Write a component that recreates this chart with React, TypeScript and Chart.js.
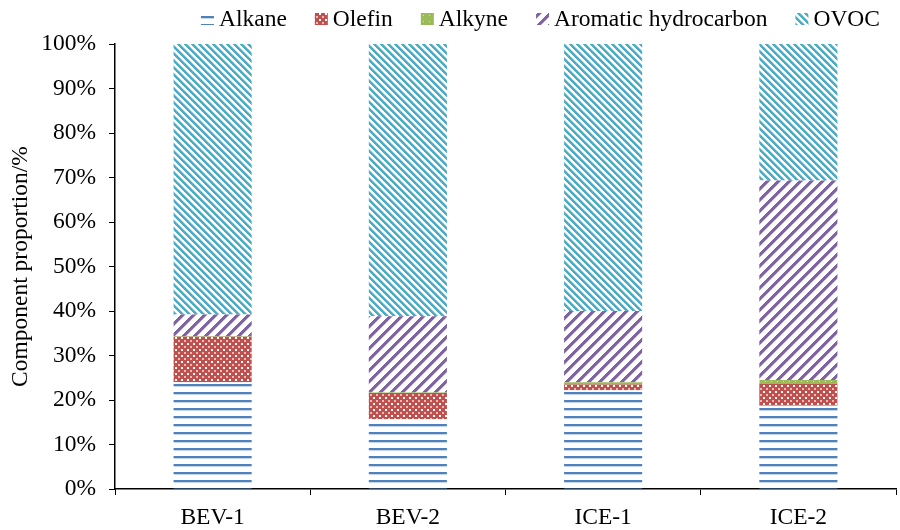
import React, { useEffect, useRef } from "react";
import { Chart, registerables } from "chart.js";

Chart.register(...registerables);

const categories = ["BEV-1", "BEV-2", "ICE-1", "ICE-2"];
const alkane = [24.0, 15.7, 22.2, 18.7];
const olefin = [10.2, 5.9, 1.3, 4.9];
const alkyne = [0.1, 0.1, 0.5, 0.9];
const aromatic = [4.9, 17.1, 16.0, 44.8];
const ovoc = [60.8, 61.2, 60.0, 30.7];
const seriesNames = ["Alkane", "Olefin", "Alkyne", "Aromatic hydrocarbon", "OVOC"];

const FONT = "'Times New Roman', 'Liberation Serif', serif";

function makeTile(size: number, paint: (x: number, y: number) => string | null): CanvasPattern | string {
  const c = document.createElement("canvas");
  c.width = size;
  c.height = size;
  const ctx = c.getContext("2d")!;
  ctx.fillStyle = "#ffffff";
  ctx.fillRect(0, 0, size, size);
  for (let y = 0; y < size; y++) {
    for (let x = 0; x < size; x++) {
      const col = paint(x, y);
      if (col) {
        ctx.fillStyle = col;
        ctx.fillRect(x, y, 1, 1);
      }
    }
  }
  const p = document.createElement("canvas").getContext("2d")!.createPattern(c, "repeat");
  return p || "#888";
}

function buildPatterns() {
  const alkanePat = makeTile(8, (x, y) => (y === 0 || y === 1 ? "#4F81BD" : y === 2 ? "#C6D6EA" : null));
  const olefinPat = makeTile(6, (x, y) => {
    if ((x === 1 || x === 2) && (y === 1 || y === 2)) return "#ffffff";
    if ((x === 4 || x === 5) && (y === 4 || y === 5)) return "#EBB9B8";
    return "#C0504D";
  });
  const alkynePat = makeTile(6, (x, y) => (x === 3 && y === 3 ? "#D7E4BD" : "#9BBB59"));
  const aromaticPat = makeTile(11, (x, y) => {
    const m = (((x + y) % 11) + 11) % 11;
    return m < 4 ? "#8064A2" : m === 4 ? "#C9BCDA" : null;
  });
  const ovocPat = makeTile(7, (x, y) => {
    const m = (((x - y) % 7) + 7) % 7;
    return m < 3 ? "#4BACC6" : m === 3 ? "#A5D5E2" : null;
  });
  return [alkanePat, olefinPat, alkynePat, aromaticPat, ovocPat];
}

const legendPlugin = {
  id: "customLegend",
  afterDraw(chart: any) {
    const ctx = chart.ctx;
    const ds = chart.data.datasets;
    ctx.save();
    ctx.font = `23.5px ${FONT}`;
    const boxW = 13;
    const boxH = 12;
    const gap = 5;
    const itemGap = 28;
    const widths = ds.map((d: any) => boxW + gap + ctx.measureText(d.label).width);
    const total = widths.reduce((a: number, b: number) => a + b, 0) + itemGap * (ds.length - 1);
    let x = chart.chartArea.right - 16 - total;
    const baseY = 26;
    ds.forEach((d: any, i: number) => {
      ctx.fillStyle = d.backgroundColor;
      ctx.fillRect(x, 13, boxW, boxH);
      ctx.fillStyle = "#000";
      ctx.textBaseline = "alphabetic";
      ctx.textAlign = "left";
      ctx.fillText(d.label, x + boxW + gap, baseY);
      x += widths[i] + itemGap;
    });
    ctx.restore();
  },
};

export default function App() {
  const ref = useRef<HTMLCanvasElement | null>(null);
  useEffect(() => {
    if (!ref.current) return;
    const pats = buildPatterns();
    const values = [alkane, olefin, alkyne, aromatic, ovoc];
    const chart = new Chart(ref.current, {
      type: "bar",
      data: {
        labels: categories,
        datasets: seriesNames.map((name, i) => ({
          label: name,
          data: values[i],
          backgroundColor: pats[i] as any,
          borderWidth: 0,
          categoryPercentage: 1,
          barPercentage: 0.4,
        })),
      },
      options: {
        responsive: false,
        animation: false,
        devicePixelRatio: 1,
        layout: { padding: { top: 44, right: 4, bottom: 0, left: 0 } },
        plugins: {
          legend: { display: false },
          tooltip: { enabled: false },
        },
        scales: {
          x: {
            stacked: true,
            afterFit: (s: any) => {
              s.height = 41;
            },
            grid: {
              display: true,
              drawOnChartArea: false,
              drawTicks: true,
              tickLength: 6,
              color: "#000",
              offset: true,
            },
            border: { display: true, color: "#000", width: 1.5 },
            ticks: {
              color: "#000",
              font: { family: FONT, size: 23.5 },
              padding: 9,
            },
          },
          y: {
            stacked: true,
            min: 0,
            max: 100,
            afterFit: (s: any) => {
              s.width = 115;
            },
            grid: {
              display: true,
              drawOnChartArea: false,
              drawTicks: true,
              tickLength: 6,
              color: "#000",
            },
            border: { display: true, color: "#000", width: 1.5 },
            ticks: {
              stepSize: 10,
              color: "#000",
              font: { family: FONT, size: 23.5 },
              padding: 13,
              callback: (v: any) => `${v}%`,
            },
            title: {
              display: true,
              text: "Component proportion/%",
              color: "#000",
              font: { family: FONT, size: 23.5 },
              padding: { top: 7, bottom: 0 },
            },
          },
        },
      },
      plugins: [legendPlugin],
    });
    return () => chart.destroy();
  }, []);
  return (
    <div style={{ position: "fixed", left: 0, top: 0, width: 900, height: 530, background: "#fff" }}>
      <canvas ref={ref} width={900} height={530} style={{ width: 900, height: 530 }} />
    </div>
  );
}
